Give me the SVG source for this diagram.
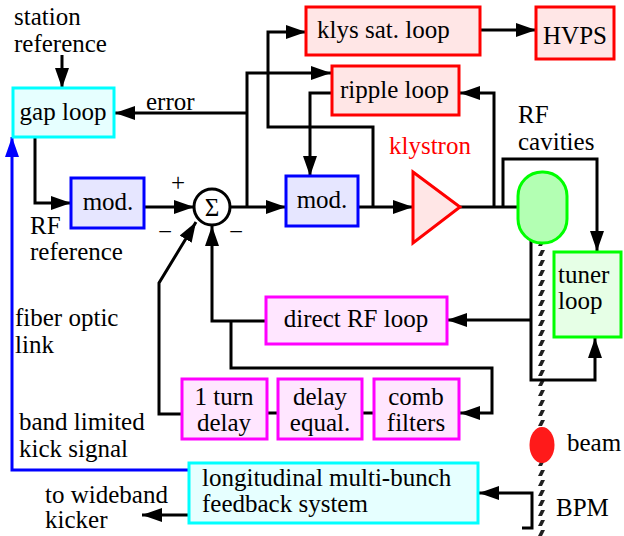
<svg xmlns="http://www.w3.org/2000/svg" width="624" height="536" viewBox="0 0 624 536">
<style>
text{font-size:25px;fill:#000}
.c{text-anchor:middle}
.box{stroke-width:3}
.red{fill:#ffe6e6;stroke:#ff0000}
.blu{fill:#e6e6ff;stroke:#0000ff}
.mag{fill:#ffe6ff;stroke:#ff00ff}
.cya{fill:#e6ffff;stroke:#00ffff}
.grn{fill:#e6ffe6;stroke:#00ff00}
.ln{fill:none;stroke:#000;stroke-width:3}
.la{fill:none;stroke:#000;stroke-width:3;marker-end:url(#ah)}
</style>
<defs>
<marker id="ah" markerUnits="userSpaceOnUse" markerWidth="20" markerHeight="14" refX="20" refY="7" orient="auto"><path d="M0,0 L20,7 L0,14 z" fill="#000"/></marker>
<marker id="ahb" markerUnits="userSpaceOnUse" markerWidth="20" markerHeight="14" refX="20" refY="7" orient="auto"><path d="M0,0 L20,7 L0,14 z" fill="#0000ff"/></marker>
<pattern id="hatch" patternUnits="userSpaceOnUse" x="537" y="0" width="9" height="10"><polygon points="4,0 8,0 5,6 1,6" fill="#222"/></pattern>
</defs>

<g id="beampipe">
<rect x="537" y="244" width="9" height="292" fill="url(#hatch)"/>
</g>

<g id="connectors">
<path class="la" d="M62,55 V88"/>
<path class="la" d="M247,207 V73 H331"/>
<path class="la" d="M247,113 H115"/>
<path class="la" d="M35,137 V203 H71"/>
<path class="la" d="M144,207 H194"/>
<path class="la" d="M230,207 H286"/>
<path class="la" d="M358,207 H413"/>
<path class="la" d="M373,207 V127 H268 V32 H306"/>
<path class="la" d="M480,30 H536"/>
<path class="la" d="M332,93 H310 V176"/>
<path class="ln" d="M460,207 H520"/>
<path class="la" d="M494,207 V93 H460"/>
<path class="la" d="M503,207 V159 H597 V251"/>
<path class="la" d="M531,238 V380 H595 V338"/>
<path class="la" d="M531,320 H447"/>
<path class="la" d="M266,321 H212 V226"/>
<path class="la" d="M231,321 V368 H492 V413 H460"/>
<path class="la" d="M182,414 H159 V283 L196,222"/>
<path class="ln" d="M267,413 H278 M362,413 H374"/>
<path class="la" d="M522,528 H532 V493 H479"/>
<path class="la" d="M189,515 H142"/>
<path d="M189,470 H12 V137" fill="none" stroke="#0000ff" stroke-width="3" marker-end="url(#ahb)"/>
</g>

<g id="labels" font-family="'Liberation Serif', 'DejaVu Serif', 'Times New Roman', serif">
<g id="station-reference"><text x="14" y="25">station</text><text x="14" y="52">reference</text></g>

<g id="gap-loop"><rect class="box cya" x="13" y="88" width="101" height="49"/><text class="c" x="63" y="120">gap loop</text></g>
<g id="error-label"><text x="146" y="110">error</text></g>

<g id="klys-sat-loop"><rect class="box red" x="306" y="7" width="174" height="48"/><text x="317" y="38">klys sat. loop</text></g>
<g id="hvps"><rect class="box red" x="536" y="7" width="78" height="52"/><text class="c" x="575" y="44">HVPS</text></g>
<g id="ripple-loop"><rect class="box red" x="332" y="66" width="127" height="49"/><text x="340" y="98">ripple loop</text></g>

<g id="mod1"><rect class="box blu" x="71" y="178" width="73" height="50"/><text class="c" x="108" y="210">mod.</text></g>
<g id="sum"><circle cx="212" cy="207" r="18" fill="#fff" stroke="#000" stroke-width="3"/><text class="c" x="212" y="216">Σ</text>
<text class="c" x="178" y="191">+</text><text class="c" x="165" y="240">−</text><text class="c" x="236" y="240">−</text></g>
<g id="rf-reference"><text x="30" y="234">RF</text><text x="30" y="260">reference</text></g>

<g id="mod2"><rect class="box blu" x="286" y="176" width="72" height="50"/><text class="c" x="322" y="208">mod.</text></g>

<g id="klystron"><polygon class="box red" points="413,172 460,207 413,243"/><text x="389" y="154" style="fill:#ff0000">klystron</text></g>

<g id="rf-cavities"><rect x="518" y="172" width="49" height="71" rx="24" ry="24" fill="#b3ffb3" stroke="#00ff00" stroke-width="3"/><text x="518" y="123">RF</text><text x="518" y="150">cavities</text></g>

<g id="tuner-loop"><rect class="box grn" x="554" y="252" width="67" height="85"/><text x="558" y="283">tuner</text><text x="558" y="309">loop</text></g>

<g id="direct-rf-loop"><rect class="box mag" x="266" y="297" width="181" height="47"/><text class="c" x="356" y="327">direct RF loop</text></g>

<g id="one-turn-delay"><rect class="box mag" x="182" y="379" width="85" height="60"/><text class="c" x="224" y="405">1 turn</text><text class="c" x="224" y="431">delay</text></g>
<g id="delay-equal"><rect class="box mag" x="278" y="379" width="84" height="60"/><text class="c" x="320" y="405">delay</text><text class="c" x="320" y="431">equal.</text></g>
<g id="comb-filters"><rect class="box mag" x="374" y="379" width="85" height="60"/><text class="c" x="416" y="405">comb</text><text class="c" x="416" y="431">filters</text></g>

<g id="fiber-optic-link"><text x="15" y="326">fiber optic</text><text x="15" y="353">link</text></g>
<g id="band-limited"><text x="19" y="430">band limited</text><text x="19" y="457">kick signal</text></g>

<g id="longitudinal"><rect class="box cya" x="189" y="463" width="289" height="60"/><text x="202" y="486">longitudinal multi-bunch</text><text x="202" y="512">feedback system</text></g>
<g id="to-wideband"><text x="45" y="503">to wideband</text><text x="45" y="528">kicker</text></g>

<g id="beam"><ellipse cx="542" cy="445" rx="12.5" ry="18" fill="#ff1a1a"/><text x="567" y="451">beam</text></g>
<g id="bpm"><text x="556" y="516">BPM</text></g>
</g>
</svg>
